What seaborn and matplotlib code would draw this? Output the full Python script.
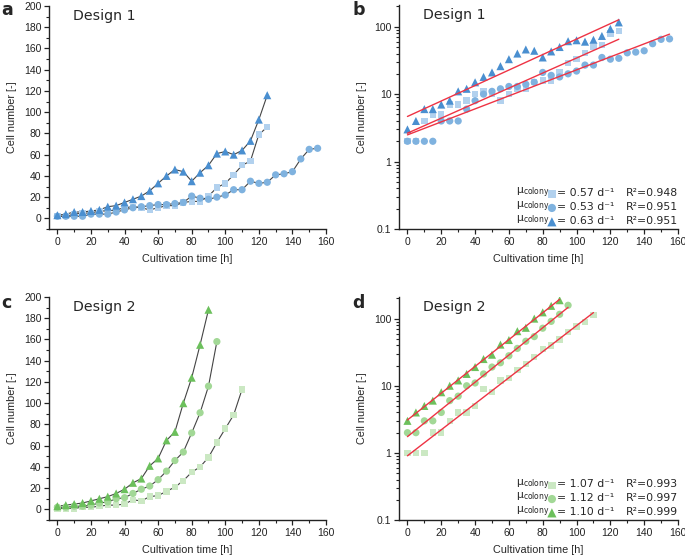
import numpy as np
import pandas as pd
import matplotlib
matplotlib.use("Agg")
import matplotlib.pyplot as plt
import seaborn as sns
from matplotlib.ticker import MultipleLocator, LogLocator, NullFormatter, FixedLocator

sns.set_theme(style="ticks")
plt.rcParams['font.family'] = ['Liberation Sans', 'DejaVu Sans']

# ---------------- data ----------------
d1_sq_t = list(range(0, 130, 5))
d1_sq_n = [2, 2, 4, 5, 5, 7, 7, 8, 10, 11, 10, 8, 10, 12, 12, 15, 16, 16, 21, 29, 33, 41, 50, 54, 79, 86]
d1_ci_t = list(range(0, 160, 5))
d1_ci_n = [2, 2, 2, 2, 4, 4, 4, 6, 8, 10, 11, 12, 13, 13, 14, 15, 21, 19, 18, 20, 22, 27, 27, 35, 33, 34,
           41, 42, 44, 56, 65, 66]
d1_tr_t = list(range(0, 130, 5))
d1_tr_n = [3, 4, 6, 6, 7, 8, 11, 12, 15, 18, 21, 26, 33, 40, 46, 44, 35, 43, 50, 61, 63, 60, 64, 73, 93, 116]

d2_sq_t = list(range(0, 115, 5))
d2_sq_n = [1, 1, 1, 2, 2, 3, 4, 4, 5, 9, 8, 12, 13, 17, 21, 27, 35, 40, 49, 63, 76, 89, 113]
d2_ci_t = list(range(0, 100, 5))
d2_ci_n = [2, 2, 3, 3, 4, 6, 7, 10, 11, 15, 19, 22, 28, 36, 46, 54, 72, 91, 116, 158]
d2_tr_t = list(range(0, 95, 5))
d2_tr_n = [3, 4, 5, 6, 8, 10, 12, 15, 19, 25, 29, 41, 48, 65, 73, 100, 124, 155, 188]

d1_mu = ["0.57", "0.53", "0.63"]
d1_r2 = ["0.948", "0.951", "0.951"]
d2_mu = ["1.07", "1.12", "1.10"]
d2_r2 = ["0.993", "0.997", "0.999"]

blues = ["#b2d1ee", "#7fb2df", "#4a8fd0"]
greens = ["#cbe8c3", "#a2d896", "#6cc05c"]
markers = ["s", "o", "^"]
msizes = [4.6, 5.2, 5.8]
red = "#ee3344"

def frame(ts, ns):
    return [pd.DataFrame({"t": t, "n": n}) for t, n in zip(ts, ns)]

d1 = frame([d1_sq_t, d1_ci_t, d1_tr_t], [d1_sq_n, d1_ci_n, d1_tr_n])
d2 = frame([d2_sq_t, d2_ci_t, d2_tr_t], [d2_sq_n, d2_ci_n, d2_tr_n])

fig = plt.figure(figsize=(6.85, 5.57), dpi=100)
W, H = 685, 557
def add_ax(l, t, r, b):
    return fig.add_axes([l / W, 1 - b / H, (r - l) / W, (b - t) / H])

ax_a = add_ax(49, 6, 326, 229)
ax_b = add_ax(399, 5, 678, 229)
ax_c = add_ax(49, 297, 326, 520)
ax_d = add_ax(399, 297, 678, 520)

tickfont = 7.5
labfont = 7.8

def style_axes(ax, log=False):
    sns.despine(ax=ax)
    for s in ["left", "bottom"]:
        ax.spines[s].set_linewidth(1.0)
        ax.spines[s].set_color("#222222")
    ax.set_xlim(-5, 160)
    ax.xaxis.set_major_locator(MultipleLocator(20))
    ax.xaxis.set_minor_locator(MultipleLocator(10))
    if log:
        ax.set_yscale("log")
        ax.set_ylim(0.1, 210)
        ax.yaxis.set_major_locator(FixedLocator([0.1, 1, 10, 100]))
        ax.yaxis.set_minor_locator(LogLocator(base=10, subs=np.arange(2, 10), numticks=20))
        ax.yaxis.set_minor_formatter(NullFormatter())
        ax.set_yticklabels(["0.1", "1", "10", "100"])
    else:
        ax.set_ylim(-10, 200)
        ax.yaxis.set_major_locator(MultipleLocator(20))
        ax.yaxis.set_minor_locator(MultipleLocator(10))
    ax.tick_params(which="major", direction="out", length=3.5, width=0.9, labelsize=tickfont,
                   colors="#222222", pad=2)
    ax.tick_params(which="minor", direction="out", length=2, width=0.8, colors="#222222")
    ax.set_xlabel("Cultivation time [h]", fontsize=labfont, labelpad=5)
    ax.set_ylabel("Cell number [-]", fontsize=labfont, labelpad=5)
    ax.set_facecolor("white")

def lin_panel(ax, dfs, colors):
    for df, c, m, ms in zip(dfs, colors, markers, msizes):
        sns.lineplot(data=df, x="t", y="n", ax=ax, color="#444444", linewidth=0.8, zorder=2)
        sns.scatterplot(data=df, x="t", y="n", ax=ax, color=c, marker=m, s=ms ** 2,
                        edgecolor="none", zorder=3)

def log_panel(ax, dfs, colors, mus, r2s):
    for df, c, m, ms in zip(dfs, colors, markers, msizes):
        sns.scatterplot(data=df, x="t", y="n", ax=ax, color=c, marker=m, s=ms ** 2,
                        edgecolor="none", zorder=3)
    for df in dfs:
        k, b0 = np.polyfit(df["t"], np.log(df["n"]), 1)
        tt = np.array([df["t"].min(), df["t"].max()])
        ax.plot(tt, np.exp(b0 + k * tt), color=red, linewidth=1.0, zorder=4)
    # legend block
    y0 = 0.16
    dy = 0.062
    lf = 7.8
    for i, (c, m, ms, mu, r2) in enumerate(zip(colors, markers, msizes, mus, r2s)):
        y = y0 - i * dy
        ax.text(0.42, y, "μ$_{\\mathregular{colony}}$", transform=ax.transAxes, fontsize=lf,
                va="center", ha="left", family=["DejaVu Sans"])
        ax.scatter([0.548], [y - 0.004], transform=ax.transAxes, color=c, marker=m, s=ms ** 2 * 1.3,
                   edgecolor="none", clip_on=False, zorder=5)
        ax.text(0.565, y, "= " + mu + " d⁻¹", transform=ax.transAxes, fontsize=lf,
                va="center", ha="left", family=["DejaVu Sans"])
        ax.text(0.812, y, "R²=" + r2, transform=ax.transAxes, fontsize=lf,
                va="center", ha="left", family=["DejaVu Sans"])

lin_panel(ax_a, d1, blues)
lin_panel(ax_c, d2, greens)
log_panel(ax_b, d1, blues, d1_mu, d1_r2)
log_panel(ax_d, d2, greens, d2_mu, d2_r2)

for ax, log in [(ax_a, False), (ax_b, True), (ax_c, False), (ax_d, True)]:
    style_axes(ax, log)

for ax, title in [(ax_a, "Design 1"), (ax_b, "Design 1"), (ax_c, "Design 2"), (ax_d, "Design 2")]:
    ax.text(0.087, 0.985, title, transform=ax.transAxes, fontsize=10.2, va="top", ha="left",
            family=["DejaVu Sans"])

for lab, x, y in [("a", 1, 1), ("b", 352, 1), ("c", 1, 294), ("d", 352, 294)]:
    fig.text(x / W, 1 - y / H, lab, fontsize=12.5, fontweight="bold", va="top", ha="left",
             family=["DejaVu Sans"])

fig.savefig("out.png", dpi=100, facecolor="white")
